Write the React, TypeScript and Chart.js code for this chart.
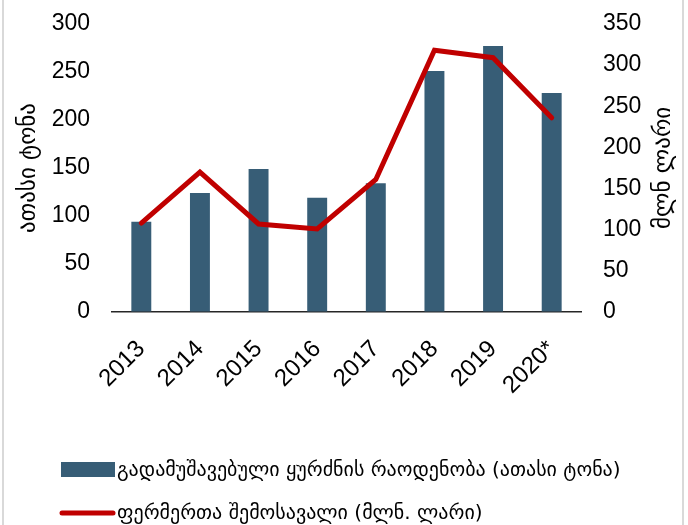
import React, { useEffect, useRef } from "react";
import { Chart, registerables } from "chart.js";

Chart.register(...registerables);

const categories = ["2013", "2014", "2015", "2016", "2017", "2018", "2019", "2020*"];
const processedGrapes = [94, 124, 149, 119, 134, 251, 277, 228];
const farmerIncome = [108, 170, 107, 101, 161, 318, 309, 236];
const leftAxisMax = 300;
const rightAxisMax = 350;
const tickStep = 50;
const barLabel = "გადამუშავებული ყურძნის რაოდენობა (ათასი ტონა)";
const lineLabel = "ფერმერთა შემოსავალი (მლნ. ლარი)";
const leftTitle = "ათასი ტონა";
const rightTitle = "მლნ ლარი";

const BAR_COLOR = "#375D76";
const LINE_COLOR = "#C00000";
const NUM_FAMILY = "'Liberation Sans', Arial, sans-serif";
const GEO_FAMILY = "'DejaVu Sans', 'Liberation Sans', sans-serif";
const TITLE_SIZE = 23;

const legendPlugin = {
  id: "customLegend",
  afterDraw(chart: any) {
    const ctx = chart.ctx;
    const ds = chart.data.datasets;
    ctx.save();
    // right axis title, read bottom-to-top like the left one
    const y1 = chart.scales.y1;
    const area = chart.chartArea;
    ctx.save();
    ctx.font = `${TITLE_SIZE}px ${GEO_FAMILY}`;
    ctx.fillStyle = "#000";
    ctx.textAlign = "center";
    ctx.textBaseline = "middle";
    ctx.translate(y1.right - (TITLE_SIZE * 1.2) / 2, (area.top + area.bottom) / 2);
    ctx.rotate(-Math.PI / 2);
    ctx.fillText(chart.options.scales.y1.title.text, 0, 0);
    ctx.restore();

    ctx.font = `20px ${GEO_FAMILY}`;
    ctx.textBaseline = "middle";
    ctx.textAlign = "left";
    // bar item
    ctx.fillStyle = ds[0].backgroundColor;
    ctx.fillRect(61, 462, 54, 15);
    ctx.fillStyle = "#000";
    ctx.fillText(ds[0].label, 117, 471);
    // line item
    ctx.strokeStyle = ds[1].borderColor;
    ctx.lineWidth = 5;
    ctx.lineCap = "round";
    ctx.beginPath();
    ctx.moveTo(62, 513);
    ctx.lineTo(113, 513);
    ctx.stroke();
    ctx.fillStyle = "#000";
    ctx.fillText(ds[1].label, 117, 514);
    ctx.restore();
  },
};

const hiddenTickGrid = {
  display: true,
  drawOnChartArea: false,
  drawTicks: true,
  tickLength: 22,
  color: "rgba(0,0,0,0)",
};

export default function App() {
  const ref = useRef<HTMLCanvasElement | null>(null);

  useEffect(() => {
    if (!ref.current) return;
    const chart = new Chart(ref.current, {
      type: "bar",
      data: {
        labels: categories,
        datasets: [
          {
            type: "bar",
            label: barLabel,
            data: processedGrapes,
            backgroundColor: BAR_COLOR,
            yAxisID: "y",
            categoryPercentage: 1,
            barPercentage: 0.34,
            order: 1,
          } as any,
          {
            type: "line",
            label: lineLabel,
            data: farmerIncome,
            borderColor: LINE_COLOR,
            backgroundColor: LINE_COLOR,
            borderWidth: 5,
            pointRadius: 0,
            tension: 0,
            borderCapStyle: "round",
            borderJoinStyle: "miter",
            yAxisID: "y1",
            order: 0,
          } as any,
        ],
      },
      options: {
        responsive: false,
        animation: false,
        layout: { padding: { left: 15, right: 10, top: 24, bottom: 113 } },
        plugins: {
          legend: { display: false },
          tooltip: { enabled: false },
        },
        scales: {
          x: {
            grid: { display: false, drawTicks: false },
            border: { display: true, color: "#262626", width: 1.5 },
            ticks: {
              font: { family: NUM_FAMILY, size: 24 },
              color: "#000",
              maxRotation: 45,
              minRotation: 45,
              padding: 23,
            },
            afterFit: (s: any) => {
              s.height = 100;
            },
          },
          y: {
            position: "left",
            min: 0,
            max: leftAxisMax,
            grid: hiddenTickGrid,
            border: { display: false },
            ticks: { stepSize: tickStep, padding: 0, font: { family: NUM_FAMILY, size: 23 }, color: "#000" },
            title: {
              display: true,
              text: leftTitle,
              font: { family: GEO_FAMILY, size: TITLE_SIZE },
              color: "#000",
              padding: 0,
            },
            afterFit: (s: any) => {
              s.width = 97;
            },
          },
          y1: {
            position: "right",
            min: 0,
            max: rightAxisMax,
            grid: hiddenTickGrid,
            border: { display: false },
            ticks: { stepSize: tickStep, padding: 0, font: { family: NUM_FAMILY, size: 23 }, color: "#000" },
            title: {
              display: false,
              text: rightTitle,
            },
            afterFit: (s: any) => {
              s.width = 97;
            },
          },
        },
      },
      plugins: [legendPlugin],
    });
    return () => chart.destroy();
  }, []);

  return (
    <div
      style={{
        position: "fixed",
        left: 0,
        top: 0,
        width: 688,
        height: 525,
        background: "#fff",
      }}
    >
      <div
        style={{
          position: "absolute",
          left: 2,
          top: 0,
          width: 678,
          height: 525,
          borderLeft: "2px solid #d9d9d9",
          borderRight: "2px solid #d9d9d9",
        }}
      />
      <canvas
        ref={ref}
        width={688}
        height={525}
        style={{ position: "absolute", left: 0, top: 0, width: 688, height: 525 }}
      />
    </div>
  );
}
